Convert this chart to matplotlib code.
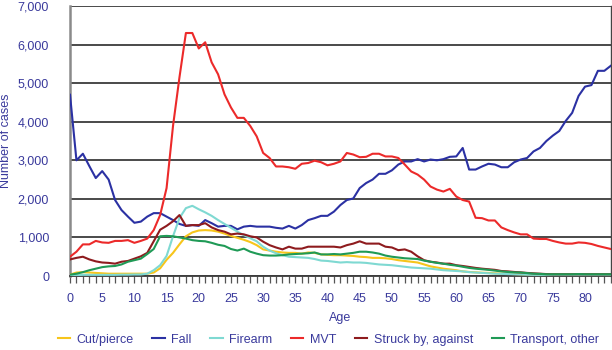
import numpy as np
import matplotlib
matplotlib.use("Agg")
import matplotlib.pyplot as plt
from matplotlib.ticker import MultipleLocator, FuncFormatter

ages = np.arange(0, 85)

cut_pierce = [35, 90, 100, 90, 80, 70, 60, 60, 60, 60,
              60, 60, 60, 90, 200, 420, 600, 820, 1030, 1130,
              1180, 1190, 1180, 1150, 1100, 1040, 990, 940, 880, 800,
              690, 660, 630, 610, 600, 600, 580, 610, 600, 560,
              550, 540, 540, 530, 520, 500, 490, 470, 470, 460,
              440, 410, 390, 370, 350, 300, 250, 220, 190, 170,
              150, 120, 105, 95, 85, 80, 70, 60, 55, 50,
              45, 40, 40, 40, 40, 40, 40, 40, 40, 40,
              40, 40, 40, 40, 40]

fall = [4700, 3000, 3170, 2850, 2540, 2720, 2500, 1970, 1710, 1540,
        1380, 1410, 1540, 1630, 1630, 1540, 1450, 1350, 1300, 1320,
        1300, 1450, 1370, 1280, 1300, 1300, 1210, 1280, 1300, 1280,
        1280, 1280, 1250, 1230, 1300, 1230, 1320, 1450, 1500, 1560,
        1560, 1670, 1840, 1970, 2010, 2280, 2410, 2500, 2650, 2650,
        2740, 2890, 2970, 2970, 3030, 2970, 3020, 3000, 3030, 3090,
        3100, 3320, 2760, 2760, 2840, 2910, 2890, 2820, 2820, 2950,
        3020, 3060, 3230, 3320, 3500, 3640, 3760, 4020, 4230, 4670,
        4910, 4950, 5320, 5320, 5450]

firearm = [20, 25, 30, 30, 30, 30, 30, 30, 35, 35,
           40, 40, 60, 150, 280, 520, 1030, 1500, 1760, 1820,
           1730, 1650, 1560, 1450, 1350, 1250, 1150, 1060, 980, 900,
           760, 660, 590, 540, 500, 490, 480, 470, 440, 400,
           390, 370, 350, 360, 350, 350, 340, 320, 300, 290,
           280, 260, 240, 220, 210, 200, 190, 170, 150, 140,
           130, 120, 100, 90, 80, 70, 60, 55, 50, 45,
           40, 35, 30, 30, 30, 30, 30, 30, 30, 30,
           30, 30, 30, 30, 30]

mvt = [500, 630, 820, 820, 910, 870, 860, 910, 910, 930,
       860, 910, 970, 1190, 1580, 2280, 3890, 5150, 6300, 6300,
       5900, 6060, 5540, 5230, 4710, 4370, 4100, 4100, 3890, 3620,
       3190, 3060, 2840, 2840, 2820, 2780, 2910, 2930, 2990, 2950,
       2870, 2910, 2970, 3190, 3150, 3080, 3090, 3170, 3170, 3100,
       3100, 3060, 2890, 2710, 2630, 2500, 2320, 2240, 2190, 2260,
       2060, 1970, 1930, 1510, 1500, 1440, 1440, 1260, 1190, 1130,
       1080, 1080, 970, 960, 960, 910, 870, 840, 840, 870,
       860, 830, 780, 740, 700]

struck = [430, 470, 500, 430, 380, 350, 340, 320, 370, 390,
          450, 510, 600, 900, 1200, 1300, 1420, 1580, 1300, 1320,
          1320, 1370, 1260, 1190, 1150, 1080, 1100, 1080, 1030, 1000,
          890, 800, 740, 690, 760, 710, 710, 760, 760, 760,
          760, 760, 740, 800, 840, 900, 840, 840, 840, 760,
          740, 670, 690, 630, 510, 410, 370, 350, 320, 320,
          280, 260, 235, 210, 190, 175, 160, 130, 120, 105,
          95, 80, 70, 60, 50, 45, 45, 45, 45, 45,
          45, 45, 45, 45, 45]

transport = [35, 60, 100, 150, 190, 230, 250, 260, 300, 370,
             410, 450, 570, 700, 1030, 1040, 1030, 1000, 970, 930,
             910, 900, 860, 810, 780, 700, 660, 710, 630, 580,
             540, 530, 530, 540, 560, 570, 580, 590, 610, 560,
             560, 570, 560, 580, 600, 630, 630, 610, 580, 530,
             500, 480, 460, 450, 440, 400, 370, 340, 320, 290,
             270, 240, 210, 190, 175, 160, 140, 120, 105, 95,
             90, 75, 60, 55, 45, 45, 45, 45, 45, 50,
             45, 45, 45, 45, 45]

series = [
    ("Cut/pierce", cut_pierce, "#f7c51b"),
    ("Fall", fall, "#2b31a3"),
    ("Firearm", firearm, "#7fd9d2"),
    ("MVT", mvt, "#ec2a2a"),
    ("Struck by, against", struck, "#8e1b1e"),
    ("Transport, other", transport, "#1f9a56"),
]

txt = "#3a3a9c"
plt.rcParams["font.family"] = ["Liberation Sans", "DejaVu Sans"]

fig = plt.figure(figsize=(6.12, 3.5), dpi=100)
ax = fig.add_axes([0.1144, 0.2114, 0.8836, 0.7714])

for name, vals, col in series:
    ax.plot(ages, vals, color=col, lw=1.5, label=name, zorder=3)

ax.set_xlim(0, 84)
ax.set_ylim(0, 7000)
ax.yaxis.set_major_locator(MultipleLocator(1000))
ax.yaxis.set_major_formatter(FuncFormatter(lambda v, p: f"{int(v):,}"))
ax.xaxis.set_major_locator(MultipleLocator(5))
ax.xaxis.set_minor_locator(MultipleLocator(1))

ax.grid(axis="y", color="#3c3c3c", lw=1.3, zorder=1)
ax.tick_params(axis="y", length=0, pad=15, labelsize=9, labelcolor=txt)
ax.tick_params(axis="x", which="both", direction="out", length=5, width=0.9,
               color="#555555", labelsize=9, labelcolor=txt, pad=7)

ax.spines["top"].set_visible(False)
ax.spines["left"].set_color("#8a8a8a")
ax.spines["left"].set_linewidth(1.8)
ax.spines["right"].set_color("#444444")
ax.spines["right"].set_linewidth(1.0)
ax.spines["bottom"].set_color("#3c3c3c")
ax.spines["bottom"].set_linewidth(1.3)

ax.set_xlabel("Age", fontsize=9, color=txt, labelpad=5)
ax.set_ylabel("Number of cases", fontsize=9, color=txt, labelpad=4)

fig.legend(loc="lower center", bbox_to_anchor=(0.537, -0.02), ncol=6,
           frameon=False, fontsize=9, handlelength=1.0, handletextpad=0.5,
           columnspacing=1.5, labelcolor=txt)

fig.savefig("out.png", dpi=100)
